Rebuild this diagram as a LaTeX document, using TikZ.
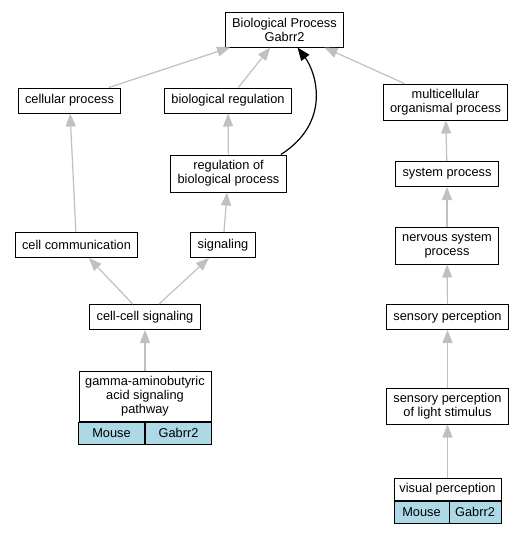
\documentclass[tikz,border=0pt]{standalone}
\usepackage{fontspec}
\setmainfont{Liberation Sans}
\usetikzlibrary{arrows.meta}
\definecolor{edgegrey}{RGB}{192,192,192}
\definecolor{genecell}{RGB}{173,216,230}
\def\tip{{Triangle[length=13pt,width=10pt]}}

\begin{document}
\begin{tikzpicture}[x=1pt,y=-1pt,
    term/.style={draw,line width=1pt,fill=white,align=center,inner xsep=7pt,inner ysep=0pt,
        minimum height=25pt,font=\fontsize{12.8}{14}\selectfont},
    cell/.style={term,fill=genecell,minimum height=22pt,inner xsep=0pt},
    isa/.style={draw=edgegrey,line width=1.2pt,-\tip},
    regedge/.style={draw=black,line width=1.2pt,-\tip}]
    \useasboundingbox (0,0) rectangle (527,533);
    % terms
    \node[term,minimum height=35pt] (bioproc) at (284.5,29.5) {Biological Process\\Gabrr2};
    \node[term] (cellproc) at (69.5,100.5) {cellular process};
    \node[term] (bioreg) at (228,100.5) {biological regulation};
    \node[term,minimum height=36pt] (multi) at (445.5,102) {multicellular\\organismal process};
    \node[term,minimum height=37pt] (regbio) at (228.5,173.5) {regulation of\\biological process};
    \node[term] (sysproc) at (447,174) {system process};
    \node[term] (cellcomm) at (76.5,245) {cell communication};
    \node[term] (signaling) at (223,245) {signaling};
    \node[term,minimum height=37pt] (nervous) at (447,245.5) {nervous system\\process};
    \node[term] (cellcell) at (145,317) {cell-cell signaling};
    \node[term] (sensory) at (447.5,317) {sensory perception};
    \node[term,minimum height=36pt] (light) at (447.5,406) {sensory perception\\of light stimulus};
    % annotated terms
    \node[term,minimum width=132pt,minimum height=50pt,inner xsep=0pt] (gaba) at (145,396)
        {gamma-aminobutyric\\acid signaling\\pathway};
    \node[cell,minimum width=66pt,anchor=north east] (gabamouse) at (gaba.south) {Mouse};
    \node[cell,minimum width=66pt,anchor=north west] (gabagene) at (gaba.south) {Gabrr2};
    \node[term,minimum width=107pt,minimum height=22pt,inner xsep=0pt] (visual) at (447.5,489) {visual perception};
    \node[cell,minimum width=55pt,anchor=north west] (visualmouse) at (visual.south west) {Mouse};
    \node[cell,minimum width=52pt,anchor=north east] (visualgene) at (visual.south east) {Gabrr2};
    % is_a edges
    \draw[isa] (cellproc) -- (bioproc);
    \draw[isa] (bioreg) -- (bioproc);
    \draw[isa] (multi) -- (bioproc);
    \draw[isa] (regbio) -- (bioreg);
    \draw[isa] (cellcomm) -- (cellproc);
    \draw[isa] (signaling) -- (regbio);
    \draw[isa] (cellcell) -- (cellcomm);
    \draw[isa] (cellcell) -- (signaling);
    \draw[isa] (gaba) -- (cellcell);
    \draw[isa] (sysproc) -- (multi);
    \draw[isa] (nervous) -- (sysproc);
    \draw[isa] (sensory) -- (nervous);
    \draw[isa] (light) -- (sensory);
    \draw[isa] (visual) -- (light);
    % regulates edge
    \draw[regedge] ([xshift=-6pt]regbio.north east) .. controls (332,122) and (316,72) .. ([xshift=13pt]bioproc.south);
\end{tikzpicture}
\end{document}
